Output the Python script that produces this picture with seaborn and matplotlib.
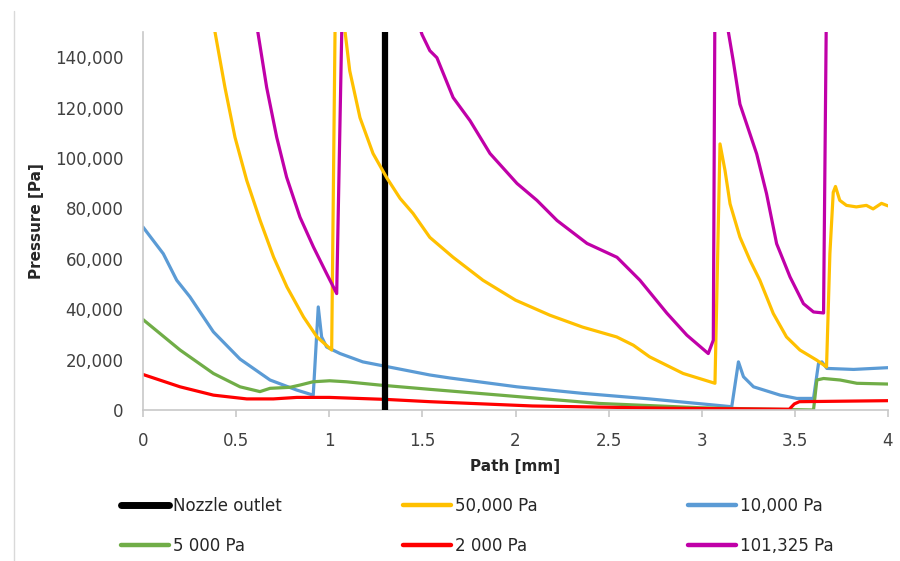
import numpy as np
import pandas as pd
import matplotlib
matplotlib.use('Agg')
import matplotlib.pyplot as plt
import seaborn as sns
from matplotlib.lines import Line2D
from matplotlib.ticker import FuncFormatter

sns.set_style('white')
plt.rcParams['font.family'] = ['DejaVu Sans']

# data (path in mm, pressure in Pa)
nozzle_x = 1.3

path_50k = [0.34, 0.387, 0.44, 0.494, 0.557, 0.629, 0.701, 0.773, 0.862, 0.934,
            1.013, 1.031, 1.05, 1.085, 1.11, 1.165, 1.235, 1.31, 1.38, 1.45,
            1.54, 1.665, 1.825, 2.0, 2.185, 2.36, 2.543, 2.633, 2.72, 2.81,
            2.9, 3.071, 3.098, 3.125, 3.152, 3.205, 3.259, 3.312, 3.384, 3.455,
            3.527, 3.617, 3.67, 3.688, 3.706, 3.718, 3.741, 3.777, 3.83, 3.884,
            3.92, 3.965, 4.0]
p_50k = [168000, 149800, 128000, 108200, 91100, 75200, 60700, 48800, 36900, 29000,
         23800, 150000, 280000, 150000, 134600, 116000, 101800, 92000, 84000, 78000,
         68500, 60600, 51500, 43600, 37600, 32900, 29000, 25700, 21100, 17800,
         14500, 10600, 105600, 95000, 81800, 68600, 59400, 51500, 38300, 29000,
         23800, 19800, 17100, 62000, 86400, 88700, 83200, 81200, 80600, 81200,
         79800, 82000, 81000]

path_10k = [0, 0.109, 0.181, 0.252, 0.378, 0.521, 0.682, 0.826, 0.914, 0.941,
            0.959, 0.986, 1.058, 1.18, 1.36, 1.54, 1.648, 2.008, 2.36, 2.72,
            3.161, 3.197, 3.224, 3.278, 3.421, 3.51, 3.6, 3.627, 3.645, 3.672,
            3.815, 4.0]
p_10k = [72600, 62000, 51500, 44900, 31000, 20200, 11900, 7900, 5900, 40900,
         29000, 25000, 22400, 19100, 16500, 13900, 12700, 9200, 6600, 4400,
         1300, 19100, 13200, 9200, 5900, 4600, 4600, 18500, 19100, 16500,
         16100, 16800]

path_5k = [0, 0.199, 0.378, 0.521, 0.628, 0.682, 0.789, 0.843, 0.913, 1.002,
           1.092, 1.27, 1.54, 1.917, 2.45, 2.99, 3.3, 3.6, 3.618, 3.654,
           3.743, 3.833, 4.0]
p_5k = [35900, 23800, 14500, 9200, 7300, 8600, 9000, 9900, 11200, 11600,
        11200, 9900, 8200, 5900, 2600, 900, 400, 0, 11900, 12500,
        11900, 10600, 10300]

path_2k = [0, 0.199, 0.378, 0.557, 0.7, 0.826, 1.0, 1.305, 1.54, 2.09,
           2.81, 3.47, 3.497, 3.524, 4.0]
p_2k = [14100, 9200, 5900, 4400, 4400, 5000, 5000, 4200, 3300, 1600,
        700, 300, 2400, 3300, 3700]

path_101k = [0.58, 0.617, 0.664, 0.718, 0.771, 0.843, 0.915, 0.986, 1.040, 1.067,
             1.08, 1.2, 1.45, 1.498, 1.54, 1.578, 1.665, 1.756, 1.863, 2.008,
             2.115, 2.223, 2.384, 2.545, 2.668, 2.813, 2.92, 3.035, 3.062, 3.07,
             3.1, 3.143, 3.169, 3.205, 3.241, 3.295, 3.348, 3.402, 3.474, 3.546,
             3.6, 3.654, 3.668, 3.68, 4.0]
p_101k = [166000, 149800, 128000, 108200, 92400, 76500, 64700, 54100, 46200, 150000,
          200000, 230000, 160000, 149000, 142600, 139800, 124000, 114800, 101800, 89900,
          83200, 75200, 66100, 60600, 51500, 38400, 29700, 22400, 27700, 150000,
          250000, 150000, 138600, 121400, 113500, 101600, 85800, 66000, 52800, 42200,
          38900, 38500, 150000, 200000, 200000]

x_ticks = [0, 0.5, 1, 1.5, 2, 2.5, 3, 3.5, 4]
y_ticks = [0, 20000, 40000, 60000, 80000, 100000, 120000, 140000]

# label, x, y, colour, zorder
series = [
    ('10,000 Pa', path_10k, p_10k, '#5B9BD5', 2),
    ('5 000 Pa', path_5k, p_5k, '#70AD47', 2.1),
    ('2 000 Pa', path_2k, p_2k, '#FF0000', 2.2),
    ('50,000 Pa', path_50k, p_50k, '#FFC000', 4),
    ('101,325 Pa', path_101k, p_101k, '#C000A8', 5),
]
colors = {s[0]: s[3] for s in series}
colors['Nozzle outlet'] = '#000000'

fig = plt.figure(figsize=(9, 5.61), dpi=100)
ax = fig.add_axes([143 / 900, 1 - 410 / 561, 745 / 900, 378 / 561])

for label, xs, ys, col, z in series:
    df = pd.DataFrame({'path': xs, 'p': ys})
    sns.lineplot(data=df, x='path', y='p', sort=False, estimator=None,
                 color=col, linewidth=2.3, ax=ax, zorder=z,
                 solid_joinstyle='round')

ax.axvline(nozzle_x, color='black', linewidth=4.5, zorder=3)

ax.set_xlim(0, 4)
ax.set_ylim(0, 150000)
ax.set_xticks(x_ticks)
ax.set_xticklabels([f'{t:g}' for t in x_ticks])
ax.set_yticks(y_ticks)
ax.yaxis.set_major_formatter(FuncFormatter(lambda v, p: f'{v:,.0f}'))

for s in ['top', 'right']:
    ax.spines[s].set_visible(False)
for s in ['left', 'bottom']:
    ax.spines[s].set_color('#c8c8c8')
    ax.spines[s].set_linewidth(1.2)

ax.tick_params(axis='x', direction='out', length=5, width=1.2, color='#c8c8c8',
               labelsize=12, labelcolor='#404040', pad=11, bottom=True)
ax.tick_params(axis='y', length=0, labelsize=12, labelcolor='#404040', pad=14)

ax.set_xlabel('Path [mm]', fontsize=11, fontweight='bold', color='#262626', labelpad=6)
ax.set_ylabel('Pressure [Pa]', fontsize=11, fontweight='bold', color='#262626', labelpad=8)

# legend in three columns of two rows
columns = [
    [('Nozzle outlet', 5.0), ('5 000 Pa', 3.2)],
    [('50,000 Pa', 3.2), ('2 000 Pa', 3.2)],
    [('10,000 Pa', 3.2), ('101,325 Pa', 3.2)],
]
col_left = [121, 403, 688]
for entries, xl in zip(columns, col_left):
    handles = [Line2D([], [], color=colors[name], linewidth=lw) for name, lw in entries]
    leg = fig.legend(handles, [name for name, _ in entries], loc='center left',
                     bbox_to_anchor=(xl / 900, 1 - 526 / 561), frameon=False,
                     fontsize=12, handlelength=2.9, handletextpad=0.2,
                     labelspacing=1.3, borderpad=0, borderaxespad=0)
    for t in leg.get_texts():
        t.set_color('#262626')

# left border of the chart area
fig.add_artist(Line2D([14 / 900, 14 / 900], [1 - 11 / 561, 0], color='#d9d9d9', linewidth=1))

fig.savefig('out.png', dpi=100)
